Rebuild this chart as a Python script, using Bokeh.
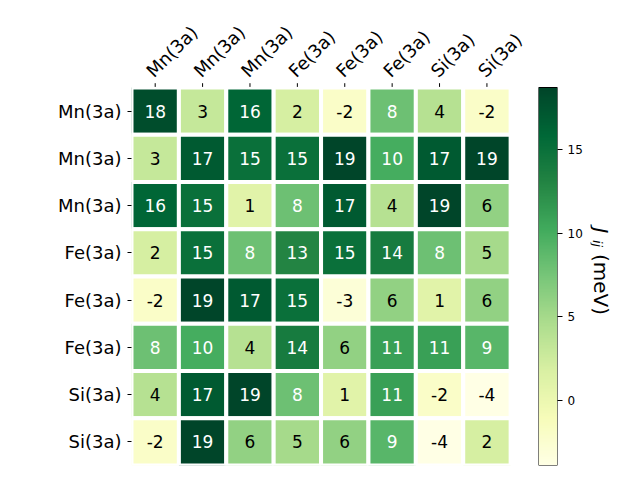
import numpy as np
from math import pi
from bokeh.plotting import figure
from bokeh.models import LinearColorMapper, FixedTicker, Range1d, ColumnDataSource
from bokeh.layouts import row
from bokeh.palettes import YlGn9
from bokeh.embed import file_html
from bokeh.resources import INLINE
from bokeh.core.properties import value

# ---------------- data ----------------
row_labels = ["Mn(3a)", "Mn(3a)", "Mn(3a)", "Fe(3a)", "Fe(3a)", "Fe(3a)", "Si(3a)", "Si(3a)"]
col_labels = ["Mn(3a)", "Mn(3a)", "Mn(3a)", "Fe(3a)", "Fe(3a)", "Fe(3a)", "Si(3a)", "Si(3a)"]
J_values = [
    [18, 3, 16, 2, -2, 8, 4, -2],
    [3, 17, 15, 15, 19, 10, 17, 19],
    [16, 15, 1, 8, 17, 4, 19, 6],
    [2, 15, 8, 13, 15, 14, 8, 5],
    [-2, 19, 17, 15, -3, 6, 1, 6],
    [8, 10, 4, 14, 6, 11, 11, 9],
    [4, 17, 19, 8, 1, 11, -2, -4],
    [-2, 19, 6, 5, 6, 9, -4, 2],
]
cbar_low, cbar_high = -3.9, 18.7
cbar_ticks = [0, 5, 10, 15]
cbar_symbol = "J"
cbar_subscript = "ij"
cbar_unit = "(meV)"

FONT = "DejaVu Sans"


def interp(pal, n):
    def h2rgb(h):
        return [int(h[i:i + 2], 16) for i in (1, 3, 5)]
    cols = np.array([h2rgb(c) for c in pal], dtype=float)
    pos = np.linspace(0, 1, len(pal))
    t = np.linspace(0, 1, n)
    out = []
    for tt in t:
        rgb = [np.interp(tt, pos, cols[:, k]) for k in range(3)]
        out.append("#%02x%02x%02x" % tuple(int(round(v)) for v in rgb))
    return out


palette = interp(list(YlGn9)[::-1], 256)
mapper = LinearColorMapper(palette=palette, low=cbar_low, high=cbar_high)
threshold = (cbar_low + cbar_high) / 2.0

xs, ys, vs, txt, tcol = [], [], [], [], []
for i, r in enumerate(J_values):
    for j, v in enumerate(r):
        xs.append(j)
        ys.append(i)
        vs.append(v)
        txt.append(str(v))
        tcol.append("white" if v > threshold else "black")
src = ColumnDataSource(dict(x=xs, y=ys, v=vs, t=txt, tc=tcol))

# ---------------- geometry (pixels) ----------------
H = 472
CELL_W = 47.39
CELL_H = 47.25
LEFT = 131          # heatmap frame left
TOP = 87            # heatmap cells top
BOTTOM = 7
W1 = 530            # heatmap figure width (frame extends right to hold labels)

frame_w1 = W1 - LEFT
x_end = -0.5 + frame_w1 / CELL_W
y_top = -0.5 - TOP / CELL_H

common = dict(output_backend="svg", toolbar_location=None, min_border_top=0,
              min_border_bottom=BOTTOM, background_fill_color="white",
              border_fill_color="white")

p = figure(width=W1, height=H, x_range=Range1d(-0.5, x_end), y_range=Range1d(7.5, y_top),
           x_axis_location=None, y_axis_location="left", min_border_left=LEFT,
           min_border_right=0, outline_line_color=None, **common)
p.xgrid.visible = False
p.ygrid.visible = False

p.rect(x="x", y="y", width=1, height=1, source=src,
       fill_color={"field": "v", "transform": mapper}, line_color="white", line_width=4)
p.text(x="x", y="y", text="t", source=src, text_color="tc", text_align="center",
       text_baseline="middle", text_font=value(FONT), text_font_size="17px")

# top ticks and rotated column labels
cols = list(range(len(col_labels)))
p.segment(x0=cols, x1=cols, y0=[-0.5 - 0.6 / CELL_H] * len(cols),
          y1=[-0.5 - 4.3 / CELL_H] * len(cols), line_color="black", line_width=1)
tsrc = ColumnDataSource(dict(x=[c - 5.7 / CELL_W for c in cols],
                             y=[-0.5 - 13.5 / CELL_H] * len(cols), t=col_labels))
p.text(x="x", y="y", text="t", source=tsrc, angle=pi / 4, text_align="left",
       text_baseline="alphabetic", text_font=value(FONT), text_font_size="18px",
       text_color="black")

yax = p.yaxis[0]
yax.ticker = FixedTicker(ticks=list(range(8)))
yax.major_label_overrides = {i: lab for i, lab in enumerate(row_labels)}
yax.axis_line_color = None
yax.major_tick_in = 0
yax.major_tick_out = 4
yax.minor_tick_in = 0
yax.minor_tick_out = 0
yax.major_label_text_font = FONT
yax.major_label_text_font_size = "18px"
yax.major_label_text_color = "black"
yax.major_label_standoff = 6

# ---------------- colorbar ----------------
CB_SCALE = 378.0 / (cbar_high - cbar_low)     # px per value unit
cb_top = cbar_high + TOP / CB_SCALE
c = figure(width=60, height=H, x_range=Range1d(0, 1), y_range=Range1d(cbar_low, cb_top),
           x_axis_location=None, y_axis_location="right", min_border_left=8,
           min_border_right=33, outline_line_color=None, **common)
c.xgrid.visible = False
c.ygrid.visible = False
grad = np.linspace(cbar_low, cbar_high, 256).reshape(-1, 1)
c.image(image=[grad], x=0, y=cbar_low, dw=1, dh=cbar_high - cbar_low, color_mapper=mapper)
c.quad(left=[0], right=[1], bottom=[cbar_low], top=[cbar_high], fill_color=None,
       line_color="black", line_width=1)
cax = c.yaxis[0]
cax.ticker = FixedTicker(ticks=cbar_ticks)
cax.axis_line_color = None
cax.major_tick_in = 0
cax.major_tick_out = 5
cax.minor_tick_in = 0
cax.minor_tick_out = 0
cax.major_label_text_font = FONT
cax.major_label_text_font_size = "12px"
cax.major_label_text_color = "black"
cax.major_label_standoff = 5

# ---------------- colorbar title ----------------
W3 = 45
t = figure(width=W3, height=H, x_range=Range1d(0, W3), y_range=Range1d(BOTTOM, H),
           x_axis_location=None, y_axis_location=None, min_border_left=0,
           min_border_right=0, outline_line_color=None, **common)
t.xgrid.visible = False
t.ygrid.visible = False
t.text(x=[10], y=[H - 227], text=[cbar_symbol], angle=-pi / 2, text_align="left",
       text_baseline="alphabetic", text_font=value(FONT), text_font_style="italic",
       text_font_size="20px", text_color="black")
t.text(x=[7], y=[H - 239.5], text=[cbar_subscript], angle=-pi / 2, text_align="left",
       text_baseline="alphabetic", text_font=value(FONT), text_font_style="italic",
       text_font_size="13px", text_color="black")
t.text(x=[10], y=[H - 253.5], text=[cbar_unit], angle=-pi / 2, text_align="left",
       text_baseline="alphabetic", text_font=value(FONT),
       text_font_size="20px", text_color="black")

layout = row(p, c, t)
open("out.html", "w").write(file_html(layout, INLINE))
